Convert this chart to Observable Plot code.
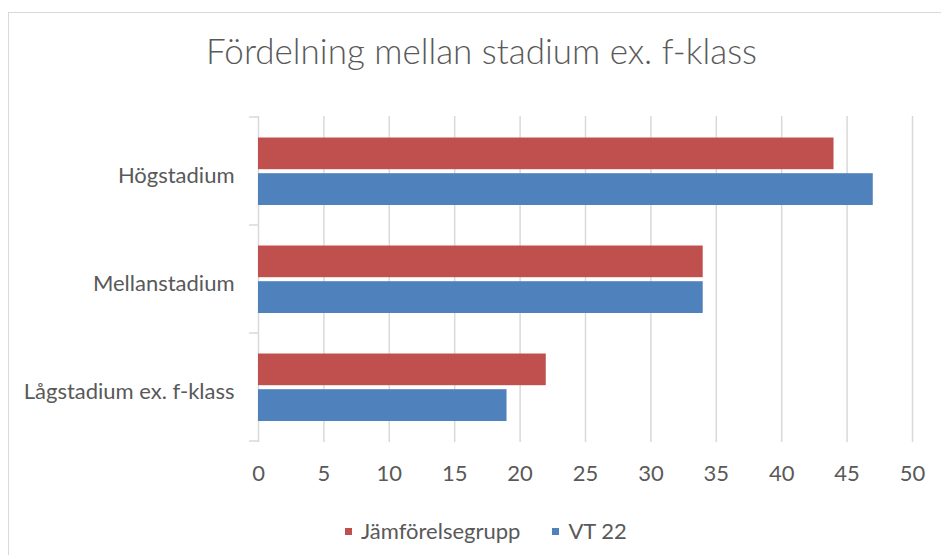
<!DOCTYPE html>
<html><head><meta charset="utf-8">
<script src="https://cdn.jsdelivr.net/npm/d3@7"></script>
<script src="https://cdn.jsdelivr.net/npm/@observablehq/plot@0.6"></script>
<style>
body{margin:0;background:#fff;}
#wrap{position:relative;width:941px;height:555px;overflow:hidden;font-family:Lato,sans-serif;color:#595959;background:#fff;}
#frame{position:absolute;left:8px;top:12px;width:1200px;height:1200px;border-left:1.5px solid #d9d9d9;border-top:1.5px solid #d9d9d9;}
#title{position:absolute;left:0;width:963px;top:33px;text-align:center;font-size:35px;line-height:35px;font-weight:300;white-space:nowrap;}
#chart{position:absolute;left:0;top:0;}
#legend{position:absolute;top:519px;left:345px;display:flex;align-items:center;font-size:22px;line-height:24px;white-space:nowrap;}
.item{display:flex;align-items:center;margin-right:32px;}
.sw{width:7px;height:7px;display:inline-block;margin-right:9px;}
</style></head>
<body>
<div id="wrap">
  <div id="frame"></div>
  <div id="title"></div>
  <div id="chart"></div>
  <div id="legend"></div>
</div>
<script>
const title = "Fördelning mellan stadium ex. f-klass";
const categories = ["Högstadium", "Mellanstadium", "Lågstadium ex. f-klass"];
const series = ["Jämförelsegrupp", "VT 22"];
const jamforelsegrupp = [44, 34, 22];
const vt22 = [47, 34, 19];
const xTicks = [0, 5, 10, 15, 20, 25, 30, 35, 40, 45, 50];
const colors = ["#C0504D", "#4F81BD"];

const rowsA = categories.map((c, i) => ({category: c, series: series[0], value: jamforelsegrupp[i]}));
const rowsB = categories.map((c, i) => ({category: c, series: series[1], value: vt22[i]}));

const plot = Plot.plot({
  width: 941,
  height: 500,
  marginLeft: 258,
  marginRight: 29,
  marginTop: 116,
  marginBottom: 58,
  style: {fontFamily: "Lato, sans-serif", fontSize: "22px", color: "#595959", background: "transparent", overflow: "visible"},
  x: {domain: [0, 50], ticks: xTicks, tickSize: 0, tickPadding: 23, tickFormat: d => String(d), label: null},
  y: {domain: categories, padding: 0, tickSize: 0, tickPadding: 24, label: null},
  color: {domain: series, range: colors},
  marks: [
    Plot.ruleX(xTicks, {stroke: "#d9d9d9", strokeWidth: 1.5}),
    Plot.barX(rowsA, {x: "value", y: "category", fill: "series", insetTop: 20.5, insetBottom: 55.8}),
    Plot.barX(rowsB, {x: "value", y: "category", fill: "series", insetTop: 56.2, insetBottom: 20})
  ]
});

// nudge category labels slightly down, as in the reference
d3.select(plot).selectAll('g[aria-label^="y-axis"] text').each(function () {
  const t = this.getAttribute("transform") || "";
  this.setAttribute("transform", "translate(0,4) " + t);
});

// boundary tick marks on the category axis
const ys = plot.scale("y");
const xs = plot.scale("x");
const x0 = xs.apply(0);
const bounds = categories.map(c => ys.apply(c)).concat([ys.apply(categories[categories.length - 1]) + ys.bandwidth]);
d3.select(plot).append("g")
  .attr("stroke", "#d9d9d9").attr("stroke-width", 1.5)
  .selectAll("line").data(bounds).join("line")
  .attr("x1", x0 - 9).attr("x2", x0).attr("y1", d => d).attr("y2", d => d);

document.getElementById("chart").appendChild(plot);
document.getElementById("title").textContent = title;

const legend = d3.select("#legend");
series.forEach((s, i) => {
  const it = legend.append("div").attr("class", "item");
  it.append("span").attr("class", "sw").style("background", colors[i]);
  it.append("span").text(s);
});
</script>
</body></html>
